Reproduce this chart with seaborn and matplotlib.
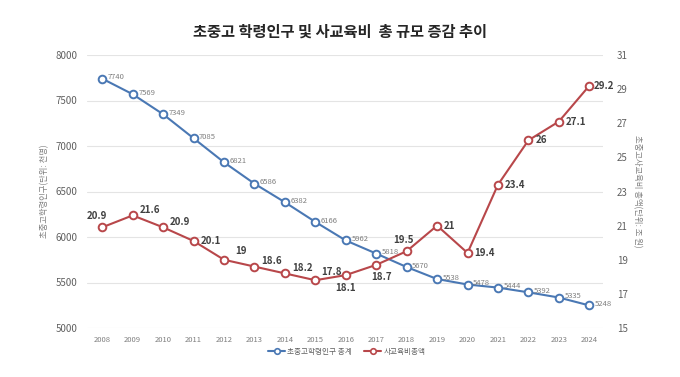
import matplotlib
matplotlib.use("Agg")
import matplotlib.pyplot as plt
import seaborn as sns
import pandas as pd
from matplotlib.lines import Line2D

years = list(range(2008, 2025))
population = [7740, 7569, 7349, 7085, 6821, 6586, 6382, 6166, 5962, 5818,
              5670, 5538, 5478, 5444, 5392, 5335, 5248]
spending = [20.9, 21.6, 20.9, 20.1, 19, 18.6, 18.2, 17.8, 18.1, 18.7,
            19.5, 21, 19.4, 23.4, 26, 27.1, 29.2]
spending_labels = ["20.9", "21.6", "20.9", "20.1", "19", "18.6", "18.2", "17.8", "18.1",
                   "18.7", "19.5", "21", "19.4", "23.4", "26", "27.1", "29.2"]
pop_name = "초중고학령인구 총계"
spend_name = "사교육비총액"
title = "초중고 학령인구 및 사교육비  총 규모 증감 추이"
left_label = "초중고학령인구(단위: 천명)"
right_label = "초중고사교육비 총액(단위: 조 원)"

sns.set_theme(style="white")
plt.rcParams['font.family'] = ['Noto Sans CJK KR', 'DejaVu Sans']

df = pd.DataFrame({"year": years, "pop": population, "spend": spending})

BLUE = "#4a78b4"
RED = "#b8474a"
GRAY = "#7f7f7f"

fig = plt.figure(figsize=(6.8, 3.77), dpi=100)
ax = fig.add_axes([87/680, 1-328/377, (603-87)/680, (328-55)/377])
ax2 = ax.twinx()

sns.lineplot(data=df, x="year", y="pop", ax=ax, color=BLUE, lw=1.5,
             marker="o", markersize=5.5, markerfacecolor="white",
             markeredgecolor=BLUE, markeredgewidth=1.4, zorder=3)
sns.lineplot(data=df, x="year", y="spend", ax=ax2, color=RED, lw=1.5,
             marker="o", markersize=5.5, markerfacecolor="white",
             markeredgecolor=RED, markeredgewidth=1.4, zorder=3)

ax.set_xlim(2007.5, 2024.45)
ax.set_ylim(5000, 8000)
ax2.set_ylim(15, 31)
ax.set_yticks(range(5000, 8001, 500))
ax2.set_yticks(range(15, 32, 2))
ax.set_xticks(years)
ax.set_xticklabels([str(y) for y in years], fontsize=5.5, color=GRAY)
ax.tick_params(axis='y', labelsize=7, colors="#606060", length=0, pad=7)
ax2.tick_params(axis='y', labelsize=7, colors="#606060", length=0, pad=10)
ax.tick_params(axis='x', length=0, pad=6)
ax.yaxis.grid(True, color="#e4e4e4", lw=0.8)
ax.set_axisbelow(True)
for a in (ax, ax2):
    for s in a.spines.values():
        s.set_visible(False)
ax.set_xlabel("")
ax.set_ylabel(left_label, fontsize=6, color=GRAY, labelpad=4)
ax2.set_ylabel(right_label, fontsize=6, color=GRAY, rotation=-90, labelpad=10)

# blue labels
for x, v in zip(years, population):
    ax.annotate(str(v), (x, v), xytext=(4, 1), textcoords="offset points",
                fontsize=5.5, color=GRAY, va="center", ha="left", zorder=4)

# red labels
for i, (x, v, t) in enumerate(zip(years, spending, spending_labels)):
    if i == 0:
        xy, ha = (-4, 8), "center"
    elif i == 8:
        xy, ha = (0, -9), "center"
    elif i == 9:
        xy, ha = (4, -9), "center"
    elif i == 10:
        xy, ha = (-2, 8), "center"
    elif i == 4:
        xy, ha = (8, 6), "left"
    elif i == 7:
        xy, ha = (4, 6), "left"
    elif i in (1, 2, 5, 6):
        xy, ha = (5, 4), "left"
    elif i == 16:
        xy, ha = (3.5, 0), "left"
    else:
        xy, ha = (5, 0), "left"
    ax2.annotate(t, (x, v), xytext=xy, textcoords="offset points",
                 fontsize=7, color="#404040", fontweight="bold",
                 ha=ha, va="center", zorder=4)

fig.text(0.5, 1-32/377, title, ha="center", va="center", fontsize=11,
         fontweight="bold", color="#262626")

handles = [Line2D([], [], color=BLUE, lw=1.5, marker="o", markersize=4,
                  markerfacecolor="white", markeredgecolor=BLUE, markeredgewidth=1.2),
           Line2D([], [], color=RED, lw=1.5, marker="o", markersize=4,
                  markerfacecolor="white", markeredgecolor=RED, markeredgewidth=1.2)]
fig.legend(handles, [pop_name, spend_name], loc="center", bbox_to_anchor=(0.51, 1-352/377),
           ncol=2, frameon=False, fontsize=5.5, labelcolor="#606060",
           handlelength=2.2, columnspacing=1.6, handletextpad=0.3)

fig.savefig("out.png", dpi=100, facecolor="white")
